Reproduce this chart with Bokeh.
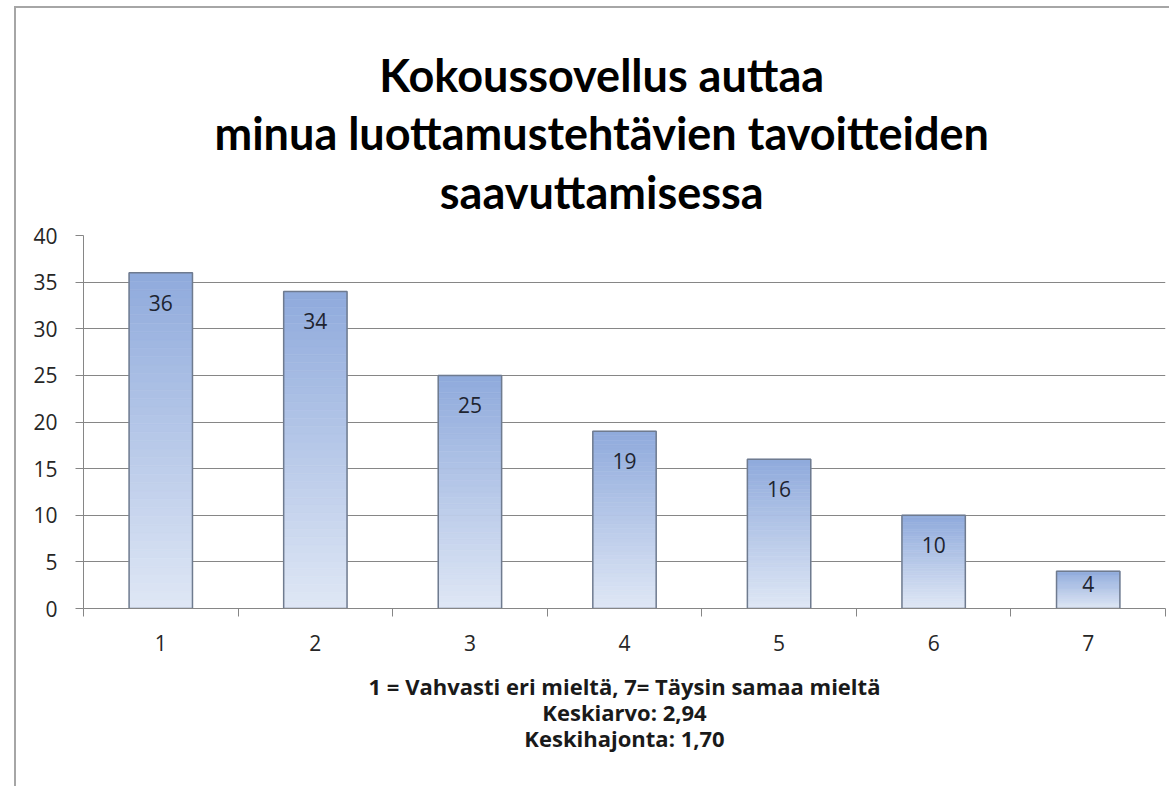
from bokeh.plotting import figure
from bokeh.models import FixedTicker, Title
from bokeh.core.properties import value
from bokeh.embed import file_html
from bokeh.resources import INLINE

# ---- data ----
categories = [1, 2, 3, 4, 5, 6, 7]
counts = [36, 34, 25, 19, 16, 10, 4]
y_ticks = [0, 5, 10, 15, 20, 25, 30, 35, 40]
title_lines = ["Kokoussovellus auttaa",
               "minua luottamustehtävien tavoitteiden",
               "saavuttamisessa"]
footer_lines = ["1 = Vahvasti eri mieltä, 7= Täysin samaa mieltä",
                "Keskiarvo: 2,94",
                "Keskihajonta: 1,70"]

# ---- layout (page pixels) ----
OX, OY = 16, 8            # canvas origin on page (after margin + border)
W, H = 1155, 780
FL, FR, FT, FB = 83, 1165, 235, 608   # frame edges on page
X0, X1 = 0.5, 7.5
Y0, Y1 = 0, 40

TFONT = "Lato"
FONT = "Open Sans"
p = figure(width=W, height=H, x_range=(X0, X1), y_range=(Y0, Y1),
           output_backend="svg", toolbar_location=None,
           min_border_left=FL - OX, min_border_right=OX + W - FR,
           min_border_top=FT - OY, min_border_bottom=OY + H - FB)
p.margin = (6, 0, 0, 14)
p.styles = {"border-left": "2px solid #a6a6a6", "border-top": "2px solid #a6a6a6"}
p.outline_line_color = None
p.background_fill_color = "white"
p.border_fill_color = "white"

# ---- gradient bars ----
BW = 0.41
top_rgb = (143, 170, 220)
bot_rgb = (223, 231, 245)
N = 40
L, R, B, T, C = [], [], [], [], []
for c, v in zip(categories, counts):
    for k in range(N):
        f = (k + 0.5) / N
        rgb = tuple(int(round(bot_rgb[j] + (top_rgb[j] - bot_rgb[j]) * f)) for j in range(3))
        L.append(c - BW / 2); R.append(c + BW / 2)
        B.append(v * k / N); T.append(v * (k + 1) / N)
        C.append("#%02x%02x%02x" % rgb)
p.quad(left=L, right=R, bottom=B, top=T, fill_color=C, line_color=C, line_width=0.6)
p.quad(left=[c - BW / 2 for c in categories], right=[c + BW / 2 for c in categories],
       bottom=0, top=counts, fill_color=None, line_color="#6f7b8f", line_width=1.5)

# ---- data labels ----
ppu = (FB - FT) / (Y1 - Y0)
offs = [min(30, v * ppu / 2 - 6) for v in counts]
p.text(x=categories, y=counts, text=[str(v) for v in counts], y_offset=offs,
       text_align="center", text_baseline="middle", text_font=value(FONT),
       text_font_size="21px", text_color="#1e2430")

# ---- axes ----
gray = "#868686"
p.yaxis.ticker = FixedTicker(ticks=y_ticks)
p.ygrid.ticker = FixedTicker(ticks=y_ticks)
p.ygrid.grid_line_color = gray
p.ygrid.grid_line_width = 1
p.xgrid.grid_line_color = None
for ax in (p.xaxis[0], p.yaxis[0]):
    ax.axis_line_color = gray
    ax.major_label_text_font = FONT
    ax.major_label_text_font_size = "21px"
    ax.major_label_text_color = "#262626"
    ax.minor_tick_line_color = gray
    ax.major_tick_line_color = gray
p.yaxis.major_tick_out = 8
p.yaxis.major_tick_in = 0
p.yaxis.minor_tick_line_color = None
p.yaxis.major_label_standoff = 18

p.xaxis.ticker = FixedTicker(ticks=categories,
                             minor_ticks=[c - 0.5 for c in categories] + [categories[-1] + 0.5])
p.xaxis.major_tick_line_color = None
p.xaxis.major_tick_out = 0
p.xaxis.major_tick_in = 0
p.xaxis.minor_tick_out = 8
p.xaxis.minor_tick_in = 0
p.xaxis.major_label_standoff = 18

# ---- title (above) ----
p.add_layout(Title(text="\n".join(title_lines), align="left", text_align="center",
                   offset=131, vertical_align="top",
                   text_font=TFONT, text_font_style="bold", text_font_size="45px",
                   text_line_height=1.09, text_color="#000000",
                   standoff=28), "above")

# ---- footer (below) ----
p.add_layout(Title(text="\n".join(footer_lines), align="center", text_align="center",
                   text_font=FONT, text_font_style="bold", text_font_size="22px",
                   text_line_height=0.86, text_color="#1a1a1a",
                   standoff=31), "below")

open("out.html", "w").write(file_html(p, INLINE))
